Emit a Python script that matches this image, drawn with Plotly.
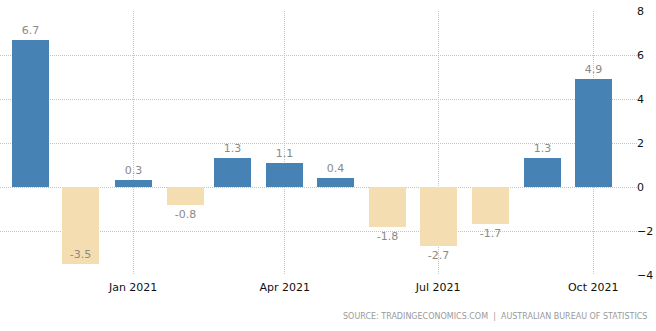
import plotly.graph_objects as go

months = ["2020-11-01", "2020-12-01", "2021-01-01", "2021-02-01", "2021-03-01", "2021-04-01",
          "2021-05-01", "2021-06-01", "2021-07-01", "2021-08-01", "2021-09-01", "2021-10-01"]
values = [6.7, -3.5, 0.3, -0.8, 1.3, 1.1, 0.4, -1.8, -2.7, -1.7, 1.3, 4.9]
tick_dates = ["2021-01-01", "2021-04-01", "2021-07-01", "2021-10-01"]
tick_labels = ["Jan 2021", "Apr 2021", "Jul 2021", "Oct 2021"]

POS = "#4682B4"
NEG = "#F5DDB2"
colors = [POS if v >= 0 else NEG for v in values]
positions = ["inside" if v < -3 else "outside" for v in values]

fig = go.Figure()
fig.add_trace(go.Bar(
    x=months, y=values,
    marker=dict(color=colors, line=dict(width=0)),
    width=22 * 86400000,
    text=[f"{v:.1f}" for v in values],
    textposition=positions,
    insidetextanchor="end",
    textangle=0,
    constraintext="none",
    cliponaxis=False,
    textfont=dict(family="DejaVu Sans", size=11, color="#8a8a8a"),
    outsidetextfont=dict(family="DejaVu Sans", size=11, color="#8a8a8a"),
    insidetextfont=dict(family="DejaVu Sans", size=11, color="#8a8a8a"),
))

fig.update_layout(
    width=656, height=331,
    margin=dict(l=0, r=19, t=11, b=56),
    paper_bgcolor="white", plot_bgcolor="white",
    showlegend=False,
    bargap=0,
    font=dict(family="DejaVu Sans", size=11, color="#222"),
    xaxis=dict(
        type="date",
        range=["2020-10-14", "2021-10-27"],
        tickvals=tick_dates, ticktext=tick_labels,
        showgrid=True, gridcolor="#c4c4c4", griddash="1px,1px", gridwidth=1,
        showline=False, zeroline=False, ticks="",
        ticklabelstandoff=4,
        tickfont=dict(family="DejaVu Sans", size=11, color="#111"),
    ),
    yaxis=dict(
        side="right",
        range=[-4, 8], dtick=2, tick0=0,
        showgrid=True, gridcolor="#c4c4c4", griddash="1px,1px", gridwidth=1,
        zeroline=False, showline=False, ticks="",
        ticklabelstandoff=-1,
        tickfont=dict(family="DejaVu Sans", size=11, color="#111"),
    ),
    annotations=[dict(
        text="SOURCE: TRADINGECONOMICS.COM  |  AUSTRALIAN BUREAU OF STATISTICS",
        xref="paper", yref="paper", x=1.0, y=0, xanchor="right", yanchor="top",
        yshift=-35, xshift=12, showarrow=False,
        font=dict(family="DejaVu Sans", size=8, color="#9a9a9a"),
    )],
)

fig.write_html("out.html")
